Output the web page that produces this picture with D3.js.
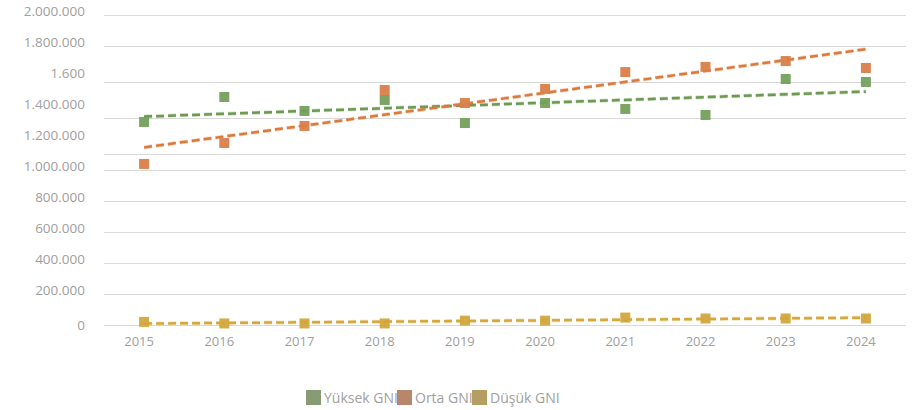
<!DOCTYPE html>
<html>
<head>
<meta charset="utf-8">
<script src="https://cdn.jsdelivr.net/npm/d3@7"></script>
<style>
  body { margin: 0; background: #fff; }
  svg text { font-family: "Open Sans", sans-serif; fill: #a0a0a0; }
</style>
</head>
<body>
<svg id="chart" width="915" height="410"></svg>
<script>
const years = [2015, 2016, 2017, 2018, 2019, 2020, 2021, 2022, 2023, 2024]
const yuksek = [1310000, 1471000, 1381000, 1452000, 1303000, 1432000, 1394000, 1355000, 1587000, 1568000]
const orta = [1039000, 1174000, 1284000, 1516000, 1432000, 1523000, 1632000, 1665000, 1703000, 1658000]
const dusuk = [20000, 10000, 10000, 10000, 28000, 28000, 48000, 42000, 42000, 42000]
const yTicks = [0, 200000, 400000, 600000, 800000, 1000000, 1200000, 1400000, 1600000, 1800000, 2000000]
const yLabels = ['0', '200.000', '400.000', '600.000', '800.000', '1.000.000', '1.200.000', '1.400.000', '1.600', '1.800.000', '2.000.000']
const gridValues = [0, 200000, 400000, 600000, 800000, 1000000, 1103000, 1335000, 1568000, 1800000, 2000000]
const seriesNames = ['Yüksek GNI', 'Orta GNI', 'Düşük GNI']

const series = [
    { name: seriesNames[0], values: yuksek, color: '#74a05c', line: '#6c9a52', legend: '#879b74' },
    { name: seriesNames[1], values: orta, color: '#d97f49', line: '#dc7a3c', legend: '#b8866a' },
    { name: seriesNames[2], values: dusuk, color: '#d2a73c', line: '#d6a83a', legend: '#b59e63' }
]

const svg = d3.select('#chart')
const margin = { top: 15, right: 10, bottom: 85, left: 104 }

const x = d3.scaleBand().domain(years).range([margin.left, 906])
const y = d3.scaleLinear().domain([0, 2000000]).range([325, 15])
const cx = d => x(d) + x.bandwidth() / 2

// gridlines
svg.append('g').selectAll('line').data(gridValues)
    .enter().append('line')
    .attr('x1', margin.left).attr('x2', 906)
    .attr('y1', d => Math.round(y(d)) + 0.5)
    .attr('y2', d => Math.round(y(d)) + 0.5)
    .attr('stroke', '#d9d9d9')
    .attr('stroke-width', 1)

// y labels
svg.append('g').selectAll('text').data(yTicks)
    .enter().append('text')
    .attr('x', 85)
    .attr('y', (d, i) => y(d) - (i === 0 ? 0 : 4))
    .attr('dy', '0.35em')
    .attr('text-anchor', 'end')
    .attr('font-size', 13.5)
    .text((d, i) => yLabels[i])

// x labels
svg.append('g').selectAll('text').data(years)
    .enter().append('text')
    .attr('x', d => cx(d) - 5)
    .attr('y', 346)
    .attr('text-anchor', 'middle')
    .attr('font-size', 13)
    .text(d => d)

// linear trend from the values
function trend(values) {
    const n = values.length
    const xs = values.map((v, i) => i)
    const mx = d3.mean(xs), my = d3.mean(values)
    const sxy = d3.sum(values, (v, i) => (i - mx) * (v - my))
    const sxx = d3.sum(xs, i => (i - mx) * (i - mx))
    const b = sxy / sxx, a = my - b * mx
    return [[years[0], a], [years[n - 1], a + b * (n - 1)]]
}

series.forEach(s => {
    const g = svg.append('g')
    const pts = trend(s.values)
    const line = d3.line().x(d => cx(d[0])).y(d => y(d[1]))
    g.append('path')
        .attr('d', line(pts))
        .attr('fill', 'none')
        .attr('stroke', s.line)
        .attr('stroke-opacity', 0.3)
        .attr('stroke-width', 4)
        .attr('stroke-dasharray', '8,4')
    g.append('path')
        .attr('d', line(pts))
        .attr('fill', 'none')
        .attr('stroke', s.line)
        .attr('stroke-width', 2.5)
        .attr('stroke-dasharray', '8,4')
})

series.forEach(s => {
    svg.append('g').selectAll('rect').data(s.values)
        .enter().append('rect')
        .attr('x', (d, i) => cx(years[i]) - 5)
        .attr('y', d => y(d) - 5)
        .attr('width', 10)
        .attr('height', 10)
        .attr('fill', s.color)
        .attr('fill-opacity', 0.95)
})

// legend
const legendX = [306, 397, 472]
const legend = svg.append('g').selectAll('g').data(series)
    .enter().append('g')
    .attr('transform', (d, i) => `translate(${legendX[i]},390)`)
legend.append('rect')
    .attr('width', 15).attr('height', 15)
    .attr('fill', d => d.legend)
legend.append('text')
    .attr('x', 18).attr('y', 13)
    .attr('font-size', 14)
    .text(d => d.name)
</script>
</body>
</html>
